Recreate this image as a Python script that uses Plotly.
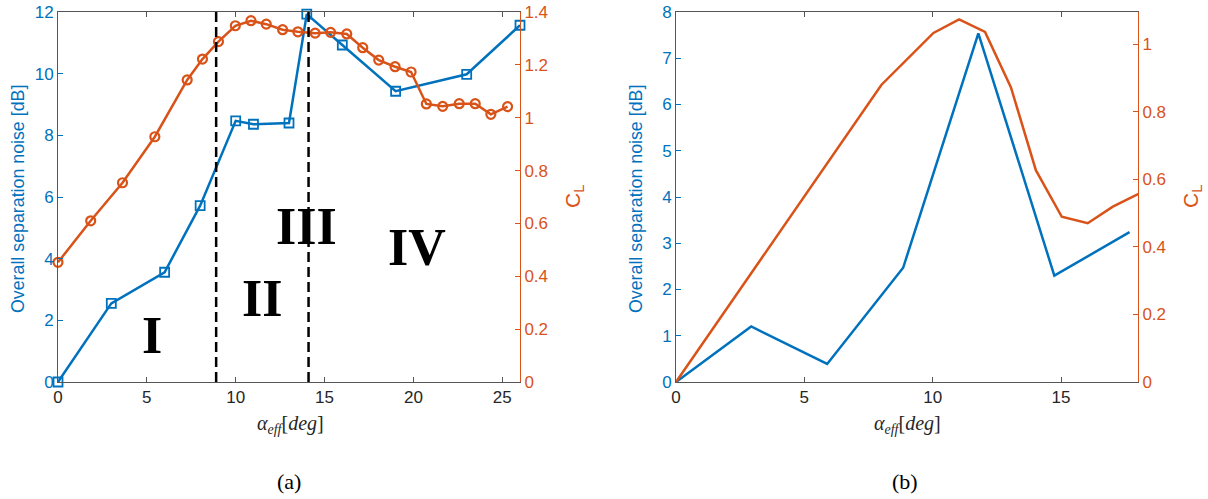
import plotly.graph_objects as go

# ---------------- data: panel (a) ----------------
alpha_a_noise = [0, 3, 6, 8, 10, 11, 13, 14, 16, 19, 23, 26]
noise_a = [0, 2.55, 3.56, 5.72, 8.47, 8.36, 8.40, 11.93, 10.93, 9.43, 9.98, 11.57]

alpha_a_cl = [0, 1.84, 3.63, 5.45, 7.27, 8.13, 9.03, 9.98, 10.86, 11.72, 12.64, 13.5,
              14.47, 15.34, 16.25, 17.15, 18.05, 18.97, 19.87, 20.73, 21.65, 22.58,
              23.48, 24.36, 25.3]
cl_a = [0.453, 0.610, 0.754, 0.928, 1.143, 1.222, 1.288, 1.348, 1.367, 1.354, 1.333,
        1.325, 1.320, 1.323, 1.317, 1.265, 1.218, 1.193, 1.173, 1.052, 1.043, 1.053,
        1.053, 1.013, 1.042]

region_bounds = [8.9, 14.1]
region_labels = ["I", "II", "III", "IV"]
region_label_x = [5.3, 11.5, 14.0, 20.2]
region_label_y = [1.5, 2.7, 5.05, 4.35]

# ---------------- data: panel (b) ----------------
alpha_b_noise = [0, 2.93, 5.89, 8.85, 11.78, 14.74, 17.67]
noise_b = [0, 1.20, 0.39, 2.47, 7.54, 2.30, 3.24]

alpha_b_cl = [0, 8.0, 10.03, 11.03, 12.04, 13.05, 14.02, 15.03, 16.04, 17.02, 18.06]
cl_b = [0, 0.879, 1.033, 1.073, 1.036, 0.872, 0.627, 0.489, 0.470, 0.519, 0.558]

BLUE = "#0072BD"
ORANGE = "#D95319"
GRAY = "#555555"
SANS = "Liberation Sans"
SERIF = "Liberation Serif"

W, H = 1208, 499
def px(x):
    return x / W
def py(y):
    return 1 - y / H

fig = go.Figure()

# panel (a)
fig.add_trace(go.Scatter(x=alpha_a_noise, y=noise_a, mode="lines+markers",
                         line=dict(color=BLUE, width=2.5),
                         marker=dict(symbol="square-open", size=9, color=BLUE,
                                     line=dict(width=1.8, color=BLUE)),
                         xaxis="x", yaxis="y", cliponaxis=False, showlegend=False))
fig.add_trace(go.Scatter(x=alpha_a_cl, y=cl_a, mode="lines+markers",
                         line=dict(color=ORANGE, width=2.5),
                         marker=dict(symbol="circle-open", size=9, color=ORANGE,
                                     line=dict(width=2.2, color=ORANGE)),
                         xaxis="x", yaxis="y2", cliponaxis=False, showlegend=False))

# panel (b)
fig.add_trace(go.Scatter(x=alpha_b_noise, y=noise_b, mode="lines",
                         line=dict(color=BLUE, width=2.5),
                         xaxis="x2", yaxis="y3", showlegend=False))
fig.add_trace(go.Scatter(x=alpha_b_cl, y=cl_b, mode="lines",
                         line=dict(color=ORANGE, width=2.5),
                         xaxis="x2", yaxis="y4", showlegend=False))

dom_y = [py(382), py(12)]
xa_common = dict(showgrid=False, zeroline=False, showline=True, mirror="ticks",
                 linecolor=GRAY, linewidth=1, ticks="inside", ticklen=5,
                 tickcolor=GRAY, tickwidth=1, automargin=False,
                 ticklabeloverflow="allow",
                 tickfont=dict(family=SANS, size=17, color="#262626"))

def ya(color, side, rng, dtick, anchor, overlay=None):
    d = dict(showgrid=False, zeroline=False, showline=True, mirror=False,
             linecolor=color, linewidth=1, ticks="inside", ticklen=5,
             tickcolor=color, tickwidth=1, range=rng, dtick=dtick, tick0=0,
             side=side, anchor=anchor, domain=dom_y, automargin=False,
             ticklabeloverflow="allow",
             tickfont=dict(family=SANS, size=17, color=color))
    if overlay:
        d["overlaying"] = overlay
        d.pop("domain")
    return d

fig.update_layout(
    width=W, height=H,
    margin=dict(l=0, r=0, t=0, b=0, autoexpand=False),
    paper_bgcolor="white", plot_bgcolor="white",
    xaxis=dict(xa_common, domain=[px(58), px(520)], range=[0, 26], dtick=5, tick0=0, anchor="y"),
    yaxis=ya(BLUE, "left", [0, 12], 2, "x"),
    yaxis2=ya(ORANGE, "right", [0, 1.4], 0.2, "x", overlay="y"),
    xaxis2=dict(xa_common, domain=[px(676), px(1138)], range=[0, 18], dtick=5, tick0=0, anchor="y3"),
    yaxis3=ya(BLUE, "left", [0, 8], 1, "x2"),
    yaxis4=ya(ORANGE, "right", [0, 1.095], 0.2, "x2", overlay="y3"),
)

# region boundaries
for xb in region_bounds:
    fig.add_shape(type="line", xref="x", yref="y", x0=xb, x1=xb, y0=0, y1=12,
                  line=dict(color="black", width=2.5, dash="10px,5px"), layer="above")

for lab, lx, ly in zip(region_labels, region_label_x, region_label_y):
    fig.add_annotation(x=lx, y=ly, xref="x", yref="y", text="<b>%s</b>" % lab,
                       showarrow=False, font=dict(family=SERIF, size=52, color="black"),
                       xanchor="center", yanchor="middle")

annots = [
    # y titles
    dict(x=px(18), y=py(199), text="Overall separation noise [dB]", textangle=-90,
         font=dict(family=SANS, size=17.8, color=BLUE)),
    dict(x=px(574), y=py(197), text="C<sub>L</sub>", textangle=-90,
         font=dict(family=SANS, size=21, color=ORANGE)),
    dict(x=px(636), y=py(199), text="Overall separation noise [dB]", textangle=-90,
         font=dict(family=SANS, size=17.8, color=BLUE)),
    dict(x=px(1192), y=py(197), text="C<sub>L</sub>", textangle=-90,
         font=dict(family=SANS, size=21, color=ORANGE)),
    # x titles
    dict(x=px(290), y=py(424), text="<i>α</i><sub><i>eff</i></sub>[<i>deg</i>]",
         font=dict(family=SERIF, size=20, color="#262626")),
    dict(x=px(907), y=py(424), text="<i>α</i><sub><i>eff</i></sub>[<i>deg</i>]",
         font=dict(family=SERIF, size=20, color="#262626")),
    # captions
    dict(x=px(289), y=py(481), text="(a)", font=dict(family=SERIF, size=22, color="black")),
    dict(x=px(905), y=py(481), text="(b)", font=dict(family=SERIF, size=22, color="black")),
]
for a in annots:
    fig.add_annotation(xref="paper", yref="paper", showarrow=False,
                       xanchor="center", yanchor="middle", **a)

# remove the default 8px page margin so the figure fills the window exactly
fig.write_html("out.html", config={"displayModeBar": False},
               post_script="document.body.style.margin='0';document.body.style.overflow='hidden';")
